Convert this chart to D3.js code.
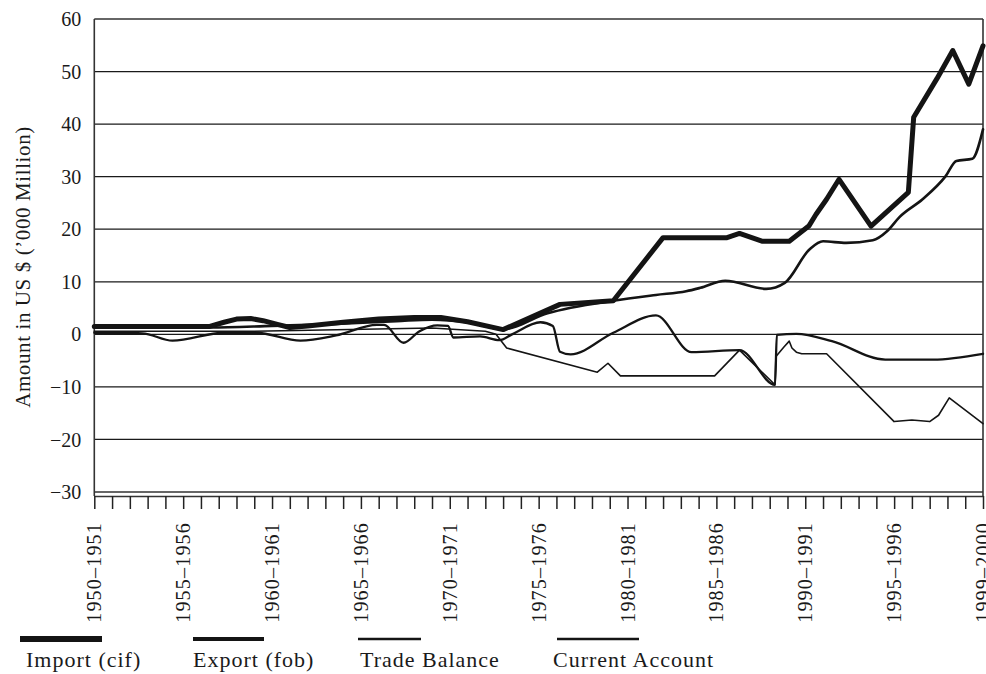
<!DOCTYPE html>
<html>
<head>
<meta charset="utf-8">
<script src="https://cdn.jsdelivr.net/npm/d3@7"></script>
<style>
  html, body { margin: 0; padding: 0; background: #fff; }
  svg { display: block; }
  text { font-family: "Liberation Serif", "DejaVu Serif", serif; fill: #1a1a1a; }
</style>
</head>
<body>
<svg id="chart" width="986" height="674"></svg>
<script>
// ---------- DATA ----------
const tickYears = d3.range(1950, 2001);
const labelYears = [1950, 1955, 1960, 1965, 1970, 1975, 1980, 1985, 1990, 1995, 2000];
const labelTexts = ["1950–1951", "1955–1956", "1960–1961", "1965–1966", "1970–1971",
  "1975–1976", "1980–1981", "1985–1986", "1990–1991", "1995–1996", "1999–2000"];
const yTicks = [-30, -20, -10, 0, 10, 20, 30, 40, 50, 60];

const importX = [1950, 1956.5, 1957.3, 1958, 1958.8, 1959.5, 1960.3, 1961, 1962, 1964, 1966, 1968, 1969.5,
  1971, 1973, 1976.2, 1979.2, 1982, 1985.6, 1986.3, 1987.6, 1989.1, 1990.2, 1990.6, 1991.2, 1991.9,
  1993.7, 1995.8, 1996.1, 1997.4, 1998.3, 1999.2, 2000];
const importV = [1.5, 1.5, 2.3, 2.9, 3.0, 2.6, 1.9, 1.3, 1.6, 2.3, 2.9, 3.2, 3.2,
  2.4, 0.9, 5.7, 6.4, 18.4, 18.4, 19.2, 17.7, 17.7, 20.6, 22.8, 25.7, 29.5,
  20.6, 27.0, 41.3, 48.6, 54.0, 47.6, 54.9];

const exportX = [1950, 1956.5, 1960, 1963, 1967, 1969, 1971, 1973, 1975.5, 1979.2, 1981.6, 1983.3, 1984.1,
  1985.5, 1987.8, 1988.85, 1990.25, 1991, 1992.3, 1993.8, 1994.6, 1995.3, 1996.6, 1997.9, 1998.5, 1999.4, 2000];
const exportV = [1.3, 1.3, 1.6, 1.9, 2.5, 2.8, 2.3, 1.0, 4.0, 6.4, 7.5, 8.2, 8.85,
  10.2, 8.65, 9.8, 16.2, 17.7, 17.4, 17.9, 19.6, 22.3, 25.7, 30.1, 33.0, 33.4, 39.0];

const tradeX = [1950, 1959, 1969, 1972, 1972.6, 1973.2, 1978.3, 1978.9, 1979.6, 1984.9, 1986.3, 1988.3,
  1988.35, 1988.8, 1989.1, 1989.25, 1989.5, 1989.8, 1991.2, 1995, 1996, 1997, 1997.5, 1998.1, 2000];
const tradeV = [0.6, 0.6, 1.2, 0.6, 0.0, -2.6, -7.2, -5.5, -7.9, -7.9, -3.0, -9.6,
  -4.2, -2.4, -1.3, -2.6, -3.4, -3.7, -3.7, -16.6, -16.3, -16.6, -15.4, -12.1, -17.0];

const currentX = [1950, 1952.7, 1954.4, 1957.3, 1959.1, 1961.6, 1963.6, 1965.9, 1966.3, 1967.4, 1968.3,
  1969.3, 1969.9, 1970.2, 1971.7, 1972.8, 1973.5, 1975.1, 1975.8, 1976.2, 1976.8, 1979.2, 1981.6, 1983.6,
  1986.3, 1988.3, 1988.4, 1989.5, 1991.5, 1994.5, 1997.2, 2000];
const currentV = [0.3, 0.2, -1.2, 0.3, 0.3, -1.2, -0.2, 1.8, 1.8, -1.6, 0.6,
  1.7, 1.6, -0.6, -0.4, -1.1, 0.0, 2.3, 1.6, -3.3, -3.8, 0.3, 3.6, -3.4,
  -3.0, -9.6, -0.1, 0.1, -1.3, -4.8, -4.8, -3.7];

const seriesNames = ["Import (cif)", "Export (fob)", "Trade Balance", "Current Account"];

// ---------- LAYOUT ----------
(function () {
const svg = d3.select("#chart");
const pL = 94.3, pR = 983, pT = 19, pB = 492, axisY = 496, tickLen = 13;

const x = d3.scaleLinear().domain([1950, 2000]).range([pL, pR]);
const y = d3.scaleLinear().domain([-30, 60]).range([pB, pT]);

const ink = "#1a1a1a";

// gridlines
svg.append("g").selectAll("line")
  .data(yTicks.filter(v => v > -30 && v < 60))
  .join("line")
  .attr("x1", pL).attr("x2", pR)
  .attr("y1", d => y(d)).attr("y2", d => y(d))
  .attr("stroke", ink).attr("stroke-width", 1.3);

// frame
svg.append("line").attr("x1", pL).attr("x2", pR).attr("y1", y(60)).attr("y2", y(60))
  .attr("stroke", "#333").attr("stroke-width", 1.5);
svg.append("line").attr("x1", pL).attr("x2", pR).attr("y1", y(-30)).attr("y2", y(-30))
  .attr("stroke", "#333").attr("stroke-width", 1.5);
svg.append("line").attr("x1", pL).attr("x2", pL).attr("y1", y(60)).attr("y2", axisY)
  .attr("stroke", "#333").attr("stroke-width", 1.6);
svg.append("line").attr("x1", pR).attr("x2", pR).attr("y1", y(60)).attr("y2", axisY)
  .attr("stroke", "#333").attr("stroke-width", 1.6);

// x axis
const xAxis = d3.axisBottom(x).tickValues(tickYears).tickSize(tickLen).tickSizeOuter(0)
  .tickFormat(d => { const i = labelYears.indexOf(d); return i >= 0 ? labelTexts[i] : ""; });
const gx = svg.append("g").attr("transform", `translate(0,${axisY})`).call(xAxis);
gx.select(".domain").attr("stroke", "#333").attr("stroke-width", 1.5);
gx.selectAll(".tick line").attr("stroke", "#222").attr("stroke-width", 1.5);
gx.selectAll(".tick text")
  .attr("transform", "rotate(-90)")
  .attr("text-anchor", "end")
  .attr("x", -26).attr("y", 0).attr("dy", "0.33em")
  .style("font-family", '"Liberation Serif", serif')
  .style("font-size", "20px").style("letter-spacing", "1.2px").attr("fill", ink);

// y axis labels
const yAxis = d3.axisLeft(y).tickValues(yTicks).tickSize(0).tickPadding(13)
  .tickFormat(d => d < 0 ? "−" + Math.abs(d) : String(d));
const gy = svg.append("g").attr("transform", `translate(${pL},0)`).call(yAxis);
gy.select(".domain").remove();
gy.selectAll(".tick text")
  .attr("dy", "0.33em")
  .style("font-family", '"Liberation Serif", serif')
  .style("font-size", "20px").attr("fill", ink);

// y title
svg.append("text")
  .attr("transform", `translate(30,${(127 + 407) / 2}) rotate(-90)`)
  .attr("text-anchor", "middle")
  .style("font-size", "21px").style("letter-spacing", "0.6px")
  .text("Amount in US $ (’000 Million)");

// series lines
const smooth = d3.line().x(d => x(d[0])).y(d => y(d[1])).curve(d3.curveMonotoneX);
const straight = d3.line().x(d => x(d[0])).y(d => y(d[1])).curve(d3.curveLinear);
const zip = (a, b) => a.map((v, i) => [v, b[i]]);
const series = [
  { data: zip(currentX, currentV), w: 2.3, gen: smooth },
  { data: zip(tradeX, tradeV), w: 1.6, gen: straight },
  { data: zip(exportX, exportV), w: 2.6, gen: smooth },
  { data: zip(importX, importV), w: 5, gen: straight }
];
svg.append("g").selectAll("path")
  .data(series)
  .join("path")
  .attr("d", d => d.gen(d.data))
  .attr("fill", "none")
  .attr("stroke", "#141414")
  .attr("stroke-width", d => d.w)
  .attr("stroke-linejoin", "round")
  .attr("stroke-linecap", "round");

// legend
const legendSamples = [
  { x1: 20, x2: 102, w: 6, tx: 26 },
  { x1: 193, x2: 264, w: 4, tx: 193 },
  { x1: 358, x2: 421, w: 2.6, tx: 360 },
  { x1: 557, x2: 639, w: 2.4, tx: 553 }
];
const lg = svg.append("g");
lg.selectAll("line").data(legendSamples).join("line")
  .attr("x1", d => d.x1).attr("x2", d => d.x2)
  .attr("y1", 639).attr("y2", 639)
  .attr("stroke", "#141414").attr("stroke-width", d => d.w);
lg.selectAll("text").data(legendSamples).join("text")
  .attr("x", d => d.tx).attr("y", 667)
  .style("font-size", "22px").style("letter-spacing", "1px")
  .text((d, i) => seriesNames[i]);
})();
</script>
</body>
</html>
